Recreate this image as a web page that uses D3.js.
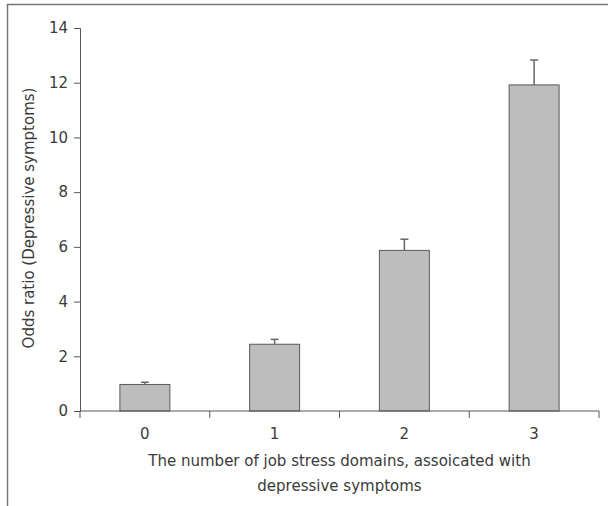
<!DOCTYPE html>
<html>
<head>
<meta charset="utf-8">
<script src="https://cdn.jsdelivr.net/npm/d3@7"></script>
<style>
  body { margin: 0; background: #fff; }
  svg { display: block; }
  text { font-family: "DejaVu Sans", sans-serif; fill: #3a3a3a; }
</style>
</head>
<body>
<svg id="chart" width="608" height="506"></svg>
<script>
const categories = ["0", "1", "2", "3"];
const oddsRatios = [0.97, 2.44, 5.87, 11.92];
const upperCI = [1.05, 2.62, 6.28, 12.83];
const yTicks = [0, 2, 4, 6, 8, 10, 12, 14];

const width = 608, height = 506;
const margin = { top: 28, right: 9, bottom: 95, left: 80 };

const svg = d3.select("#chart");

// frame lines (top and left)
svg.append("path")
  .attr("d", `M7.5,${height} V4.5 H${width}`)
  .attr("fill", "none")
  .attr("stroke", "#777")
  .attr("stroke-width", 1.5);

const x = d3.scaleBand()
  .domain(categories)
  .range([margin.left, width - margin.right])
  .paddingInner(0.615)
  .paddingOuter(0.3075);

const y = d3.scaleLinear()
  .domain([0, 14])
  .range([height - margin.bottom, margin.top]);

// bars
svg.append("g")
  .selectAll("rect")
  .data(oddsRatios)
  .join("rect")
    .attr("x", (d, i) => x(categories[i]))
    .attr("y", d => y(d))
    .attr("width", x.bandwidth())
    .attr("height", d => y(0) - y(d))
    .attr("fill", "#bdbdbd")
    .attr("stroke", "#5a5a5a")
    .attr("stroke-width", 1);

// error bars (upper only)
const err = svg.append("g").attr("stroke", "#666").attr("stroke-width", 1.5);
err.selectAll("line.v")
  .data(upperCI)
  .join("line")
    .attr("class", "v")
    .attr("x1", (d, i) => x(categories[i]) + x.bandwidth() / 2)
    .attr("x2", (d, i) => x(categories[i]) + x.bandwidth() / 2)
    .attr("y1", (d, i) => y(oddsRatios[i]))
    .attr("y2", d => y(d));
err.selectAll("line.c")
  .data(upperCI)
  .join("line")
    .attr("class", "c")
    .attr("x1", (d, i) => x(categories[i]) + x.bandwidth() / 2 - 4)
    .attr("x2", (d, i) => x(categories[i]) + x.bandwidth() / 2 + 4)
    .attr("y1", d => y(d))
    .attr("y2", d => y(d));

// y axis
const yAxis = svg.append("g")
  .attr("transform", `translate(${margin.left},0)`)
  .call(d3.axisLeft(y).tickValues(yTicks).tickSize(6).tickPadding(6));
yAxis.select(".domain").attr("stroke", "#555");
yAxis.selectAll(".tick line").attr("stroke", "#555");
yAxis.selectAll(".tick text")
  .attr("font-size", 15)
  .style("font-family", "DejaVu Sans, sans-serif")
  .attr("fill", "#3a3a3a");

// x axis: baseline with ticks at band boundaries
const xAxisG = svg.append("g")
  .attr("transform", `translate(0,${y(0)})`);
const step = x.step();
const boundaries = [0, 1, 2, 3, 4].map(i => margin.left + i * step);
xAxisG.append("line")
  .attr("x1", margin.left).attr("x2", width - margin.right)
  .attr("stroke", "#555");
xAxisG.selectAll("line.tk")
  .data(boundaries)
  .join("line")
    .attr("class", "tk")
    .attr("x1", d => d).attr("x2", d => d)
    .attr("y1", 0).attr("y2", 7)
    .attr("stroke", "#555");
xAxisG.selectAll("text")
  .data(categories)
  .join("text")
    .attr("x", d => x(d) + x.bandwidth() / 2)
    .attr("y", 28)
    .attr("text-anchor", "middle")
    .attr("font-size", 15)
    .text(d => d);

// axis titles
svg.append("text")
  .attr("transform", `translate(34,218) rotate(-90)`)
  .attr("text-anchor", "middle")
  .attr("font-size", 15)
  .text("Odds ratio (Depressive symptoms)");

const xTitle = svg.append("text")
  .attr("text-anchor", "middle")
  .attr("font-size", 15);
xTitle.append("tspan")
  .attr("x", (margin.left + width - margin.right) / 2)
  .attr("y", 466)
  .text("The number of job stress domains, assoicated with");
xTitle.append("tspan")
  .attr("x", (margin.left + width - margin.right) / 2)
  .attr("y", 491)
  .text("depressive symptoms");
</script>
</body>
</html>
